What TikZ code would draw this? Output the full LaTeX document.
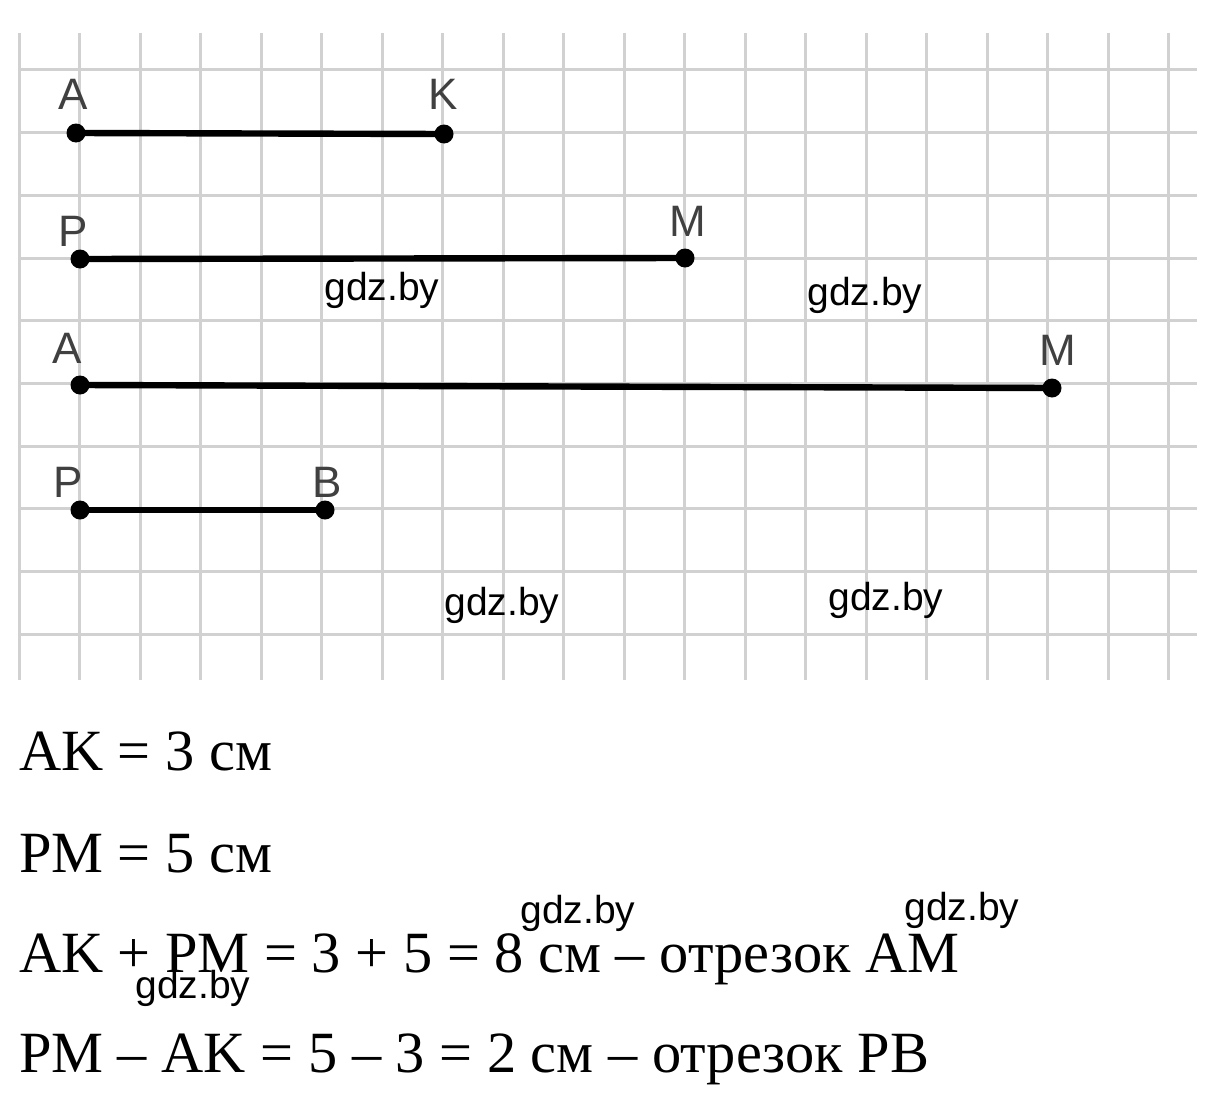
\documentclass[tikz,border=0pt]{standalone}
\usepackage{fontspec}
\setmainfont{Liberation Serif}
\newfontfamily\labelfont{Liberation Sans}
\usepackage{tikz}

\begin{document}
\begin{tikzpicture}[x=0.5pt,y=-0.5pt,
  every node/.style={inner sep=0pt, outer sep=0pt},
  pt/.style={circle, fill=black, minimum size=9.5pt},
  lbl/.style={font=\labelfont\fontsize{22pt}{22pt}\selectfont, text=black!75},
  wm/.style={font=\labelfont\fontsize{19.5pt}{19.5pt}\selectfont},
  eq/.style={anchor=base west, font=\fontsize{29.2pt}{29.2pt}\selectfont}]
\useasboundingbox[fill=white] (0,0) rectangle (1214,1113);

\foreach \k in {0,...,19} \draw[black!18, line width=1.5pt] (19+60.5*\k,33) -- (19+60.5*\k,680);
\foreach \j in {0,...,9} \draw[black!18, line width=1.5pt] (19,70+62.67*\j) -- (1197,70+62.67*\j);

\node[pt] (A1) at (76,133) {};
\node[pt] (K) at (444,134) {};
\node[pt] (P1) at (80,259) {};
\node[pt] (M1) at (685,258) {};
\node[pt] (A2) at (80,385) {};
\node[pt] (M2) at (1052,388) {};
\node[pt] (P2) at (80,510) {};
\node[pt] (B) at (325,510) {};

\draw[line width=3.2pt] (A1.center) -- (K.center);
\draw[line width=3.2pt] (P1.center) -- (M1.center);
\draw[line width=3.2pt] (A2.center) -- (M2.center);
\draw[line width=3.2pt] (P2.center) -- (B.center);

\node[lbl] (lA1) at (73,94) {A};
\node[lbl] (lK) at (443,94) {K};
\node[lbl] (lP1) at (73,231) {P};
\node[lbl] (lM1) at (688,221) {M};
\node[lbl] (lA2) at (67,348) {A};
\node[lbl] (lM2) at (1058,350) {M};
\node[lbl] (lP2) at (68,482) {P};
\node[lbl] (lB) at (327,482) {B};

\node[wm] (w1) at (382,290) {gdz.by};
\node[wm] (w2) at (865,295) {gdz.by};
\node[wm] (w3) at (502,605) {gdz.by};
\node[wm] (w4) at (886,600) {gdz.by};

\node[eq] (e1) at (19,770) {AK = 3 см};
\node[eq] (e2) at (19,872) {PM = 5 см};
\node[eq] (e3) at (19,972) {AK + PM = 3 + 5 = 8 см – отрезок AM};
\node[eq] (e4) at (19,1072) {PM – AK = 5 – 3 = 2 см – отрезок PB};

\node[wm] (w5) at (578,913) {gdz.by};
\node[wm] (w6) at (962,910) {gdz.by};
\node[wm] (w7) at (193,988) {gdz.by};
\end{tikzpicture}
\end{document}
